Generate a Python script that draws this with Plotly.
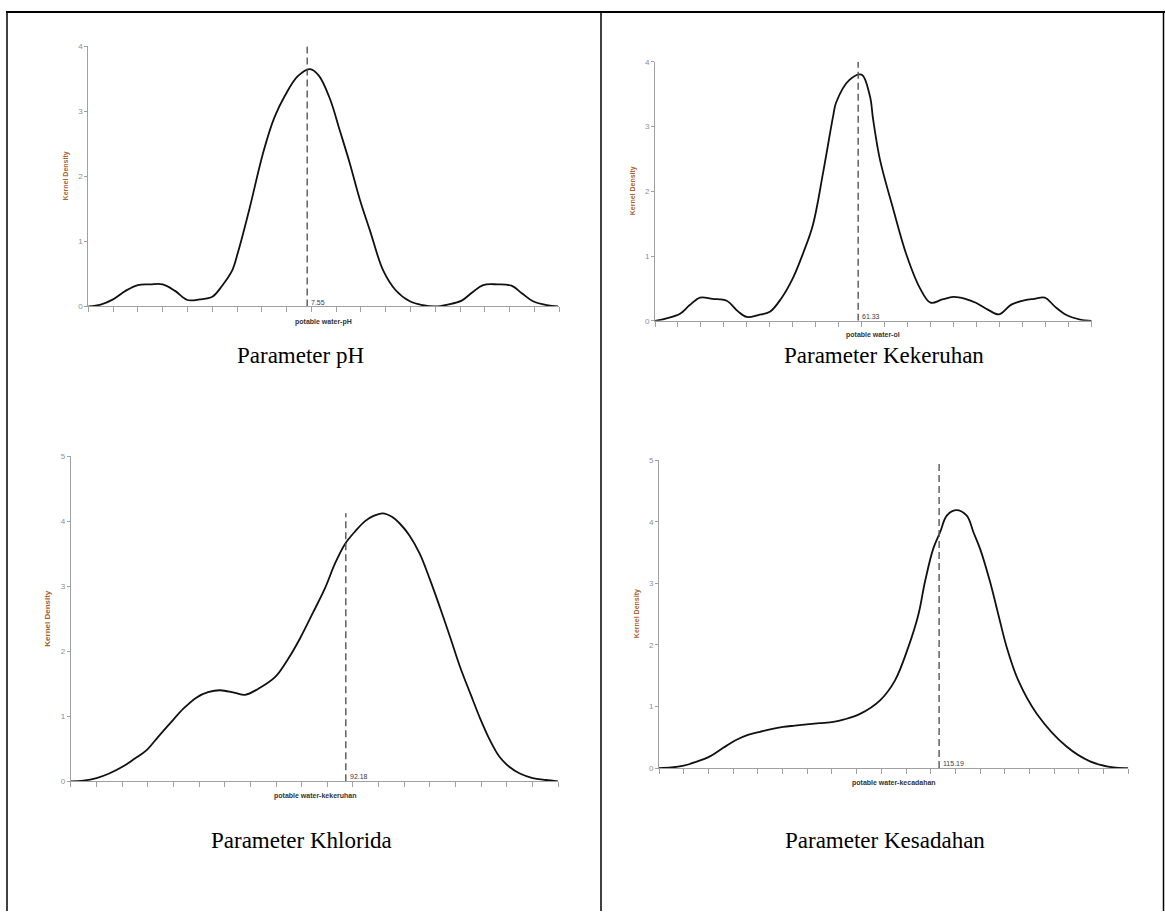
import plotly.graph_objects as go

W, H = 1165, 916

# ---------------- data ----------------
ph_x = [0.0, 0.5, 1.0, 1.5, 2.0, 2.5, 3.0, 3.5, 4.0, 4.5, 5.0, 5.4, 5.8, 6.05, 6.5, 7.05, 7.5, 7.93, 8.45,
        8.94, 9.3, 9.75, 10.15, 10.55, 10.95, 11.36, 11.9, 12.4, 12.97, 13.5, 13.98, 14.5, 15.06, 15.5,
        15.93, 16.5, 17.07, 17.5, 17.94, 18.5, 18.95]
ph_y = [0.0, 0.03, 0.11, 0.24, 0.33, 0.34, 0.34, 0.24, 0.10, 0.11, 0.15, 0.32, 0.55, 0.85, 1.5, 2.36, 2.9,
        3.24, 3.54, 3.65, 3.55, 3.19, 2.7, 2.2, 1.65, 1.17, 0.55, 0.25, 0.08, 0.02, 0.0, 0.03, 0.09, 0.22,
        0.33, 0.34, 0.32, 0.2, 0.08, 0.02, 0.0]

ol_x = [0.0, 0.5, 1.09, 1.5, 1.96, 2.5, 3.12, 3.6, 3.99, 4.5, 5.0, 5.5, 6.0, 6.45, 6.87, 7.32, 7.75, 7.88,
        8.46, 8.99, 9.35, 9.49, 9.78, 10.36, 10.94, 11.52, 11.99, 12.5, 12.98, 13.5, 13.96, 14.5, 14.97,
        15.5, 15.98, 16.5, 16.96, 17.4, 17.9, 18.5, 19.0]
ol_y = [0.0, 0.04, 0.11, 0.24, 0.36, 0.34, 0.31, 0.15, 0.06, 0.09, 0.14, 0.35, 0.66, 1.05, 1.48, 2.30,
        3.16, 3.37, 3.72, 3.80, 3.47, 3.11, 2.50, 1.73, 1.02, 0.51, 0.28, 0.33, 0.37, 0.34, 0.28, 0.17,
        0.10, 0.25, 0.31, 0.34, 0.36, 0.22, 0.09, 0.02, 0.0]

kl_x = [0.0, 0.5, 1.01, 1.5, 2.05, 2.5, 2.96, 3.4, 3.87, 4.4, 4.91, 5.35, 5.82, 6.4, 6.8, 7.3, 7.96, 8.5,
        8.94, 9.45, 9.91, 10.3, 10.69, 11.1, 11.47, 11.8, 12.16, 12.5, 12.83, 13.2, 13.6, 14.0, 14.4,
        14.8, 15.18, 15.6, 15.96, 16.3, 16.7, 17.1, 17.5, 18.0, 18.5, 19.0]
kl_y = [0.0, 0.01, 0.05, 0.12, 0.23, 0.35, 0.48, 0.68, 0.89, 1.12, 1.29, 1.37, 1.40, 1.36, 1.33, 1.42,
        1.60, 1.90, 2.20, 2.60, 2.97, 3.35, 3.65, 3.85, 4.00, 4.08, 4.12, 4.07, 3.96, 3.78, 3.50, 3.10,
        2.66, 2.20, 1.75, 1.32, 0.96, 0.66, 0.38, 0.22, 0.12, 0.05, 0.02, 0.0]

ks_x = [0.0, 0.5, 1.0, 1.5, 2.06, 2.6, 3.14, 3.6, 4.09, 4.5, 5.03, 5.5, 5.98, 6.5, 7.06, 7.5, 8.14, 8.95,
        9.55, 10.09, 10.5, 10.77, 11.1, 11.38, 11.65, 12.02, 12.46, 12.73, 13.0, 13.4, 13.74, 14.08,
        14.55, 15.3, 16.5, 17.45, 18.4, 19.0]
ks_y = [0.0, 0.01, 0.04, 0.10, 0.19, 0.33, 0.46, 0.54, 0.59, 0.63, 0.67, 0.69, 0.71, 0.73, 0.75, 0.79,
        0.88, 1.10, 1.42, 1.96, 2.49, 3.03, 3.56, 3.83, 4.10, 4.19, 4.10, 3.83, 3.56, 3.03, 2.49, 1.96,
        1.42, 0.88, 0.35, 0.11, 0.01, 0.0]

mean_pos = [8.83, 8.84, 10.72, 11.34]
mean_labels = ["7.55", "61.33", "92.18", "115.19"]
mean_tops = [4, 4, 4.12, 5]
y_max = [4, 4, 5, 5]
x_titles = ["potable water-pH", "potable water-ol", "potable water-kekeruhan", "potable water-kecadahan"]
captions = ["Parameter pH", "Parameter Kekeruhan", "Parameter Khlorida", "Parameter Kesadahan"]
series_x = [ph_x, ol_x, kl_x, ks_x]
series_y = [ph_y, ol_y, kl_y, ks_y]

# ---------------- layout (pixel boxes) ----------------
# (left, right, top, bottom) in pixels
boxes = [(88.3, 559.3, 42.7, 305.5),
         (655.0, 1091.7, 58.3, 320.0),
         (70.7, 558.3, 456.6, 785.0),
         (659.0, 1128.3, 460.7, 771.7)]
ytitle_x = [66, 633, 48, 637]
xtitle_y = [321, 334, 800, 787]
ytitle_size = [7, 7, 8, 7]
caption_pos = [(300, 355), (884, 355), (301, 845), (885, 845)]

def px(x):
    return x / W

def py(y):
    return 1 - y / H

fig = go.Figure()
annotations = []
for i in range(4):
    l, r, t, b = boxes[i]
    xa = "xaxis" if i == 0 else f"xaxis{i+1}"
    ya = "yaxis" if i == 0 else f"yaxis{i+1}"
    xr = "x" if i == 0 else f"x{i+1}"
    yr = "y" if i == 0 else f"y{i+1}"
    fig.add_trace(go.Scatter(x=series_x[i], y=series_y[i], mode="lines", line_shape="spline",
                             line=dict(color="#111111", width=1.8), xaxis=xr, yaxis=yr,
                             showlegend=False, hoverinfo="skip"))
    fig.add_trace(go.Scatter(x=[mean_pos[i], mean_pos[i]], y=[0, mean_tops[i]], mode="lines",
                             line=dict(color="#555555", width=1.4, dash="7px,4px"),
                             xaxis=xr, yaxis=yr, showlegend=False, hoverinfo="skip"))
    fig.update_layout(**{
        xa: dict(domain=[px(l), px(r)], range=[0, 19], anchor=yr, showgrid=False, zeroline=False,
                 showline=True, linecolor="#a0a0a0", linewidth=1, ticks="outside", ticklen=5,
                 tickcolor="#a0a0a0", tickvals=list(range(20)), showticklabels=False, fixedrange=True),
        ya: dict(domain=[py(b), py(t)], range=[0, y_max[i]], anchor=xr, showgrid=False, zeroline=False,
                 showline=True, linecolor="#a0a0a0", linewidth=1, ticks="outside", ticklen=3,
                 tickcolor="#a0a0a0", tickvals=list(range(y_max[i] + 1)),
                 tickfont=dict(family="Liberation Sans", size=8, color="#8a8f99"), fixedrange=True),
    })
    annotations.append(dict(x=mean_pos[i], y=0, xref=xr, yref=yr, text=mean_labels[i], showarrow=False,
                            xanchor="left", yanchor="bottom", xshift=2, yshift=-1,
                            font=dict(family="Liberation Sans", size=7, color="#3a3a48")))
    annotations.append(dict(x=px(ytitle_x[i]), y=py((t + b) / 2), xref="paper", yref="paper",
                            text="<b>Kernel Density</b>", textangle=-90, showarrow=False,
                            xanchor="center", yanchor="middle",
                            font=dict(family="Liberation Sans", size=ytitle_size[i], color="#a8652e")))
    annotations.append(dict(x=px((l + r) / 2), y=py(xtitle_y[i]), xref="paper", yref="paper",
                            text=f"<b>{x_titles[i]}</b>", showarrow=False, xanchor="center",
                            yanchor="middle",
                            font=dict(family="Liberation Sans", size=7, color="#333333")))
    cx, cy = caption_pos[i]
    annotations.append(dict(x=px(cx), y=py(cy), xref="paper", yref="paper", text=captions[i],
                            showarrow=False, xanchor="center", yanchor="middle",
                            font=dict(family="Liberation Serif", size=23, color="#000000")))

shapes = [
    dict(type="line", xref="paper", yref="paper", x0=px(6), x1=px(1165), y0=py(8), y1=py(8),
         line=dict(color="#000000", width=2)),
    dict(type="line", xref="paper", yref="paper", x0=px(7), x1=px(7), y0=py(8), y1=py(916),
         line=dict(color="#000000", width=1.5)),
    dict(type="line", xref="paper", yref="paper", x0=px(601), x1=px(601), y0=py(8), y1=py(916),
         line=dict(color="#000000", width=1.5)),
    dict(type="line", xref="paper", yref="paper", x0=px(1163.5), x1=px(1163.5), y0=py(8), y1=py(916),
         line=dict(color="#000000", width=1.5)),
]

fig.update_layout(width=W, height=H, margin=dict(l=0, r=0, t=0, b=0), paper_bgcolor="white",
                  plot_bgcolor="white", annotations=annotations, shapes=shapes, showlegend=False)

post = (
    "var de=document.documentElement, bd=document.body, gd=document.getElementById('{plot_id}');"
    "de.style.margin='0';de.style.padding='0';de.style.overflow='hidden';de.style.height='916px';"
    "bd.style.margin='0';bd.style.padding='0';bd.style.overflow='hidden';bd.style.height='916px';"
    "gd.style.position='fixed';gd.style.left='0px';gd.style.top='0px';"
)
fig.write_html("out.html", config={"displayModeBar": False}, post_script=post)
